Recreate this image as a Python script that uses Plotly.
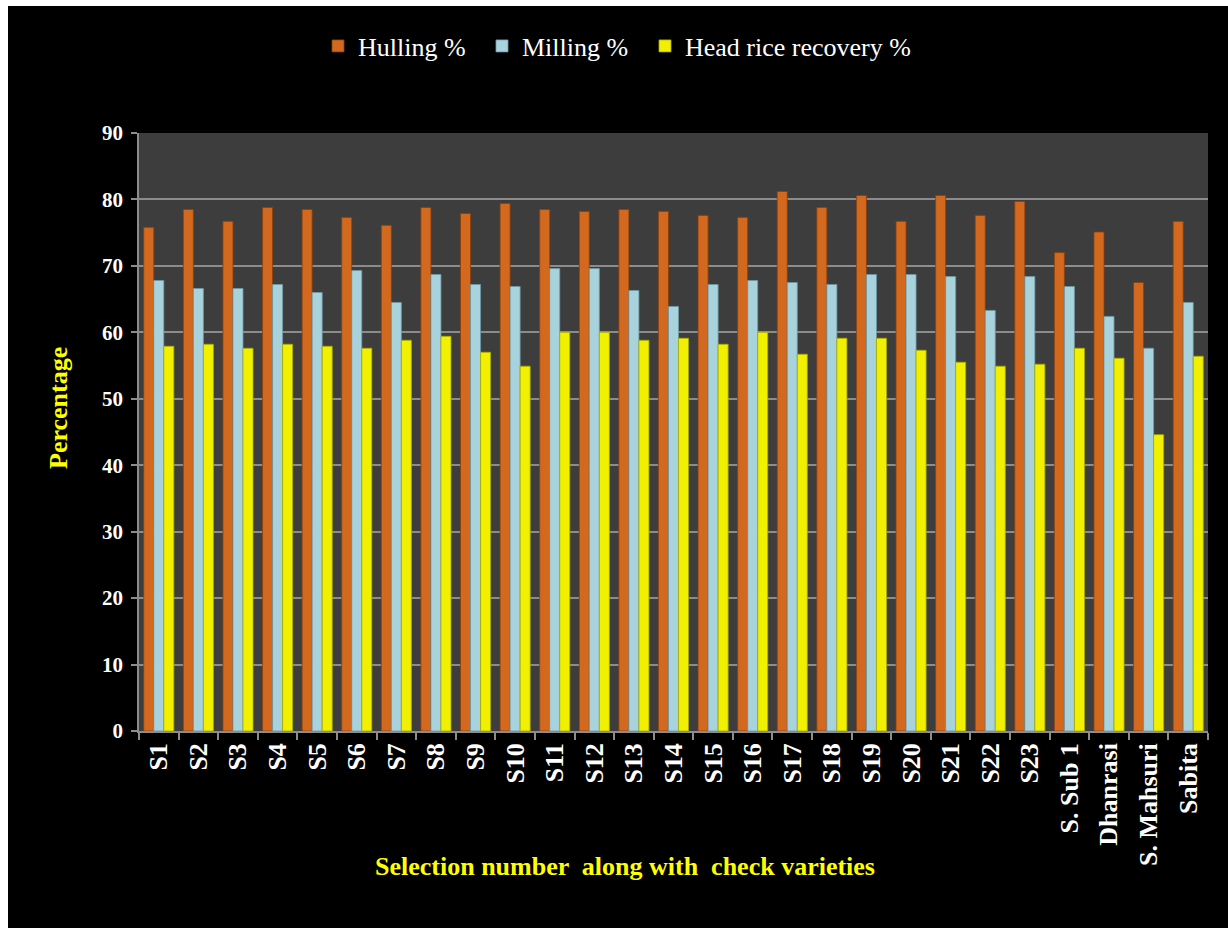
import plotly.graph_objects as go

categories = ["S1", "S2", "S3", "S4", "S5", "S6", "S7", "S8", "S9", "S10",
              "S11", "S12", "S13", "S14", "S15", "S16", "S17", "S18", "S19", "S20",
              "S21", "S22", "S23", "S. Sub 1", "Dhanrasi", "S. Mahsuri", "Sabita"]

hulling = [75.8, 78.5, 76.7, 78.8, 78.5, 77.3, 76.1, 78.8, 77.9, 79.4,
           78.5, 78.2, 78.5, 78.2, 77.6, 77.3, 81.2, 78.8, 80.6, 76.7,
           80.6, 77.6, 79.7, 72.0, 75.1, 67.5, 76.7]
milling = [67.8, 66.6, 66.6, 67.2, 66.0, 69.3, 64.5, 68.7, 67.2, 66.9,
           69.6, 69.6, 66.3, 63.9, 67.2, 67.8, 67.5, 67.2, 68.7, 68.7,
           68.4, 63.3, 68.4, 66.9, 62.4, 57.6, 64.5]
head_rice = [57.9, 58.2, 57.6, 58.2, 57.9, 57.6, 58.8, 59.4, 57.0, 54.9,
             60.0, 60.0, 58.8, 59.1, 58.2, 60.0, 56.7, 59.1, 59.1, 57.3,
             55.5, 54.9, 55.2, 57.6, 56.1, 44.6, 56.4]

series_names = ["Hulling %", "Milling %", "Head rice recovery %"]
series_colors = ["#D2691E", "#A8D2DC", "#F0F000"]
series_lines = ["#8A3F0E", "#6E9AA6", "#A8A800"]

W, H = 1228, 928
L, R, T, B = 139, 1208, 133, 731


def xp(px):
    return (px - L) / (R - L)


def yp(py):
    return (B - py) / (B - T)


serif = "Liberation Serif"
legend_ids = ["legend", "legend2", "legend3"]
legend_left_px = [318, 482, 645]

fig = go.Figure()
for name, vals, col, lc, lid in zip(series_names, [hulling, milling, head_rice],
                                    series_colors, series_lines, legend_ids):
    fig.add_trace(go.Bar(
        x=categories, y=vals, name=name, legend=lid,
        marker=dict(color=col, line=dict(color=lc, width=0.8)),
    ))

legend_common = dict(
    orientation="h", yanchor="middle", xanchor="left",
    font=dict(family=serif, size=26, color="white"),
    bgcolor="rgba(0,0,0,0)", itemwidth=30,
)

fig.update_layout(
    width=W, height=H,
    margin=dict(l=L, r=W - R, t=T, b=H - B, pad=0),
    paper_bgcolor="black",
    plot_bgcolor="#3D3D3D",
    barmode="group",
    bargap=0.24,
    bargroupgap=0.0,
    showlegend=True,
    legend=dict(x=xp(legend_left_px[0]), y=yp(46), **legend_common),
    legend2=dict(x=xp(legend_left_px[1]), y=yp(46), **legend_common),
    legend3=dict(x=xp(legend_left_px[2]), y=yp(46), **legend_common),
    font=dict(family=serif, color="white"),
)

fig.update_xaxes(
    type="category",
    showline=True, linecolor="#8C8C8C", linewidth=1.5,
    ticks="outside", tickson="boundaries", ticklen=7, tickcolor="#8C8C8C", tickwidth=1.5,
    tickangle=-90,
    tickfont=dict(family=serif, size=26, color="white", weight="bold"),
    showgrid=False,
)
fig.update_yaxes(
    range=[0, 90], dtick=10,
    showline=True, linecolor="#8C8C8C", linewidth=1.5,
    ticks="outside", ticklen=6, tickcolor="#8C8C8C", tickwidth=1.5,
    tickfont=dict(family=serif, size=21, color="white", weight="bold"),
    ticklabelstandoff=4,
    showgrid=True, gridcolor="#8C8C8C", gridwidth=1.5,
    zeroline=False,
)

fig.add_annotation(
    text="Percentage", textangle=-90,
    x=xp(58), y=yp(408), xref="paper", yref="paper",
    xanchor="center", yanchor="middle", showarrow=False,
    font=dict(family=serif, size=26, color="#FFFF00", weight="bold"),
)
fig.add_annotation(
    text="Selection number \u00a0along with \u00a0check varieties",
    x=xp(625), y=yp(866), xref="paper", yref="paper",
    xanchor="center", yanchor="middle", showarrow=False,
    font=dict(family=serif, size=26, color="#FFFF00", weight="bold"),
)

# thin white frame at the top and left of the image
fig.add_shape(type="rect", xref="paper", yref="paper",
              x0=xp(-5), x1=xp(8), y0=yp(940), y1=yp(-5),
              fillcolor="white", line=dict(width=0), layer="above")
fig.add_shape(type="rect", xref="paper", yref="paper",
              x0=xp(-5), x1=xp(1240), y0=yp(6), y1=yp(-5),
              fillcolor="white", line=dict(width=0), layer="above")

fig.write_html("out.html")
